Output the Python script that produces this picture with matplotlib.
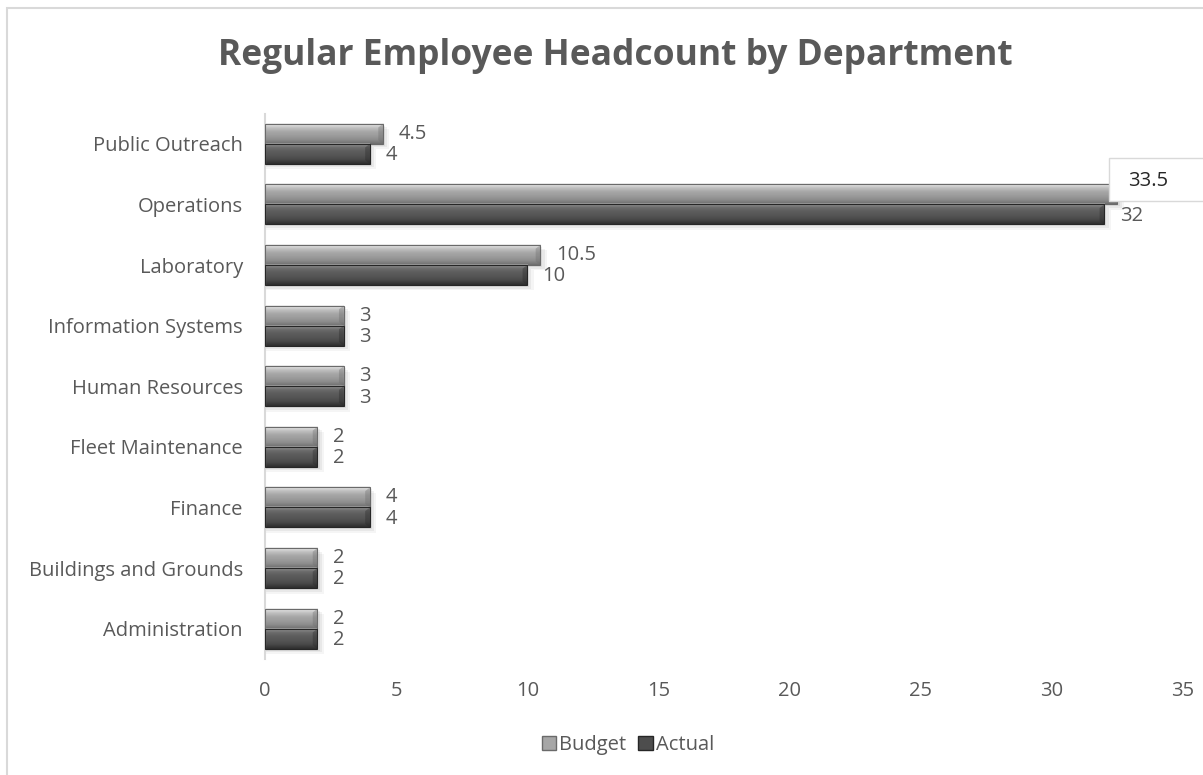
import numpy as np
import matplotlib
matplotlib.use("Agg")
import matplotlib.pyplot as plt
from matplotlib.colors import LinearSegmentedColormap
from matplotlib.patches import Rectangle, Patch

plt.rcParams["font.family"] = ["Open Sans", "DejaVu Sans"]

# Headcount per department, bottom to top
departments = [
    "Administration",
    "Buildings and Grounds",
    "Finance",
    "Fleet Maintenance",
    "Human Resources",
    "Information Systems",
    "Laboratory",
    "Operations",
    "Public Outreach",
]
budget = [2, 2, 4, 2, 3, 3, 10.5, 32.5, 4.5]
actual = [2, 2, 4, 2, 3, 3, 10, 32, 4]
x_ticks = [0, 5, 10, 15, 20, 25, 30, 35]

TEXT_GRAY = "#595959"
FS = 14.5
BAR_H = 0.33

# Vertical shading for the bevelled bars (top of bar -> bottom of bar)
budget_cmap = LinearSegmentedColormap.from_list(
    "budget", ["#f4f4f4", "#c4c4c4", "#a8a8a8", "#9c9c9c", "#8c8c8c", "#6e6e6e"]
)
actual_cmap = LinearSegmentedColormap.from_list(
    "actual", ["#a0a0a0", "#6c6c6c", "#5c5c5c", "#555555", "#474747", "#2e2e2e"]
)
grad = np.linspace(0, 1, 64).reshape(-1, 1)

fig = plt.figure(figsize=(12.03, 7.75), dpi=100)
ax = fig.add_axes([265 / 1203, 1 - 659 / 775, (1183 - 265) / 1203, (659 - 113.5) / 775])

ypos = np.arange(len(departments))


def draw_bar(value, yc, cmap, edge):
    y0, y1 = yc - BAR_H / 2, yc + BAR_H / 2
    # soft drop shadow
    for k, a in enumerate([0.06, 0.05, 0.04]):
        off = 0.03 * (k + 1)
        ax.add_patch(Rectangle((0, y0 - off), value + 0.08 * (k + 1), BAR_H,
                               facecolor="#000000", alpha=a, edgecolor="none",
                               zorder=1))
    ax.imshow(grad, extent=[0, value, y0, y1], aspect="auto", cmap=cmap,
              origin="upper", zorder=2, interpolation="bilinear")
    ax.add_patch(Rectangle((0, y0), value, BAR_H, facecolor="none",
                           edgecolor=edge, linewidth=0.8, zorder=3))
    # bevelled right end
    dx = 0.18
    ax.fill([value - dx, value, value, value - dx],
            [y1 - 0.06, y1, y0, y0 + 0.06], color=edge, alpha=0.35, zorder=3,
            linewidth=0)


for i, (b, a) in enumerate(zip(budget, actual)):
    draw_bar(b, ypos[i] + BAR_H / 2, budget_cmap, "#6a6a6a")
    draw_bar(a, ypos[i] - BAR_H / 2, actual_cmap, "#262626")
    ax.annotate(f"{b:g}", (b, ypos[i] + BAR_H / 2), xytext=(11, 0),
                textcoords="offset points", va="center", ha="left",
                fontsize=FS, color=TEXT_GRAY)
    ax.annotate(f"{a:g}", (a, ypos[i] - BAR_H / 2), xytext=(11, -1),
                textcoords="offset points", va="center", ha="left",
                fontsize=FS, color=TEXT_GRAY)

ax.set_xlim(0, 35)
ax.set_ylim(-0.5, len(departments) - 0.5)
ax.set_xticks(x_ticks)
ax.set_yticks(ypos)
ax.set_yticklabels(departments)
ax.tick_params(axis="both", length=0, labelsize=FS, labelcolor=TEXT_GRAY)
ax.tick_params(axis="x", pad=16)
ax.tick_params(axis="y", pad=16)
for side in ["top", "right", "bottom"]:
    ax.spines[side].set_visible(False)
ax.spines["left"].set_color("#d9d9d9")
ax.spines["left"].set_linewidth(1.5)

fig.text(615 / 1203, 1 - 56 / 775, "Regular Employee Headcount by Department",
         ha="center", va="center", fontsize=25.5, fontweight="bold", color=TEXT_GRAY)

# Legend
handles = [
    Patch(facecolor="#a6a6a6", edgecolor="#6a6a6a", label="Budget"),
    Patch(facecolor="#4d4d4d", edgecolor="#262626", label="Actual"),
]
fig.legend(handles=handles, loc="center", bbox_to_anchor=(628 / 1203, 1 - 745 / 775),
           ncol=2, frameon=False, fontsize=FS, handlelength=0.7, handleheight=0.7,
           handletextpad=0.15, columnspacing=0.6, labelcolor=TEXT_GRAY)

# Stray value box over the Operations label
fig.patches.append(Rectangle((1109 / 1203, 1 - 201 / 775), 0.2, 43 / 775,
                             transform=fig.transFigure, facecolor="white",
                             edgecolor="#d9d9d9", linewidth=1, zorder=5))
fig.text(1128 / 1203, 1 - 181 / 775, "33.5", ha="left", va="center",
         fontsize=FS, color="#262626", zorder=6)

# Chart area border
fig.patches.append(Rectangle((7 / 1203, -0.1), 1.2, 1 - 8 / 775 + 0.1,
                             transform=fig.transFigure, facecolor="none",
                             edgecolor="#d9d9d9", linewidth=1.5, zorder=0))

fig.savefig("out.png", dpi=100)
